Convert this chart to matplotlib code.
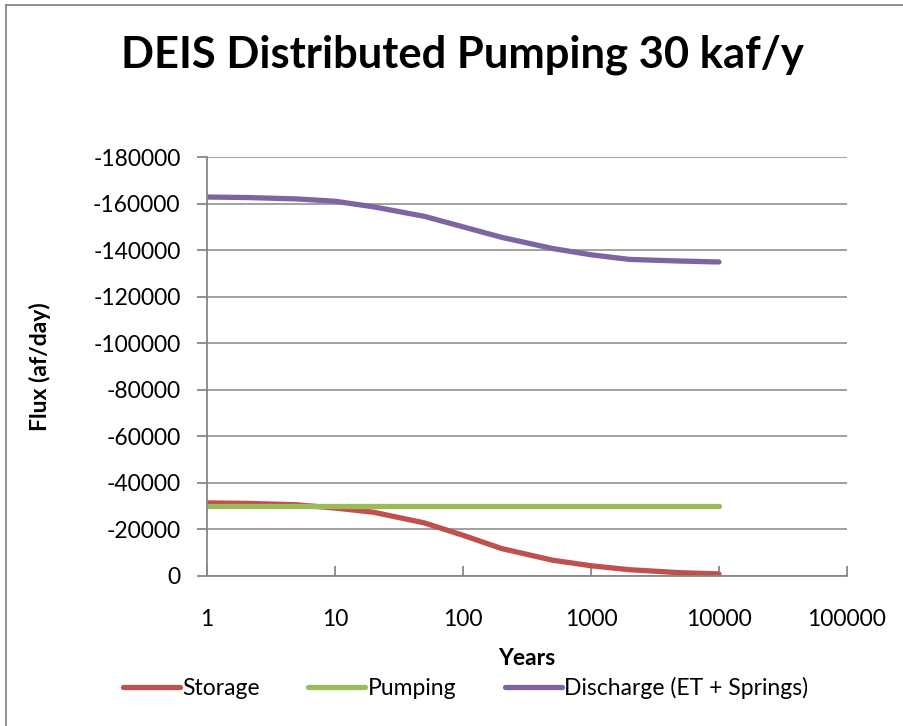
import matplotlib
matplotlib.use("Agg")
import matplotlib.pyplot as plt
from matplotlib.lines import Line2D

plt.rcParams['font.family'] = ['Lato', 'DejaVu Sans']

years = [1, 2, 5, 10, 20, 50, 100, 200, 500, 1000, 2000, 5000, 10000]
storage = [-31400, -31200, -30600, -29200, -27400, -22800, -17500,
           -11800, -6800, -4400, -2700, -1400, -900]
pumping = [-30000] * len(years)
discharge = [-162800, -162600, -162000, -161000, -158600, -154500, -150000,
             -145500, -140700, -138000, -136000, -135300, -134900]
yticks = list(range(0, -180001, -20000))
xticks = [1, 10, 100, 1000, 10000, 100000]

grid_col = "#878787"

fig = plt.figure(figsize=(9.04, 7.26), dpi=100)
ax = fig.add_axes([207/904, 150/726, 640/904, 419/726])

ax.plot(years, storage, color="#C0504D", lw=3.8, solid_capstyle="round", label="Storage")
ax.plot(years, pumping, color="#9BBB59", lw=3.8, solid_capstyle="round", label="Pumping")
ax.plot(years, discharge, color="#8064A2", lw=3.8, solid_capstyle="round",
        label="Discharge (ET + Springs)")

ax.set_xscale("log")
ax.set_xlim(1, 100000)
ax.set_ylim(0, -180000)
ax.set_xticks(xticks)
ax.set_xticklabels([str(t) for t in xticks])
ax.xaxis.set_minor_locator(matplotlib.ticker.NullLocator())
ax.set_yticks(yticks)
ax.set_yticklabels([str(t) for t in yticks])

ax.grid(axis="y", color=grid_col, lw=1.1)
ax.set_axisbelow(True)
for s in ["top", "right"]:
    ax.spines[s].set_visible(False)
for s in ["left", "bottom"]:
    ax.spines[s].set_color(grid_col)
    ax.spines[s].set_linewidth(1.3)
ax.tick_params(axis="x", direction="in", length=7, width=1.3, color=grid_col,
               labelsize=16.5, pad=24)
ax.tick_params(axis="y", direction="out", length=7, width=1.3, color=grid_col,
               labelsize=16.5, pad=12)

ax.set_xlabel("Years", fontsize=16.5, fontweight="bold", labelpad=13)
ax.set_ylabel("Flux (af/day)", fontsize=16.5, fontweight="bold", labelpad=30)
fig.text(0.511, 0.924, "DEIS Distributed Pumping 30 kaf/y", ha="center", va="center",
         fontsize=31.3, fontweight="bold")

fig.legend(loc="center", bbox_to_anchor=(0.515, 0.052), ncol=3, frameon=False,
           fontsize=16.5, handlelength=2.5, handletextpad=0.1, columnspacing=2.1)

fig.add_artist(Line2D([6/904, 6/904], [0, 1 - 5/726], transform=fig.transFigure,
                      color=grid_col, lw=1.3))
fig.add_artist(Line2D([6/904, 1], [1 - 5/726, 1 - 5/726], transform=fig.transFigure,
                      color=grid_col, lw=1.3))

fig.savefig("out.png", dpi=100)
